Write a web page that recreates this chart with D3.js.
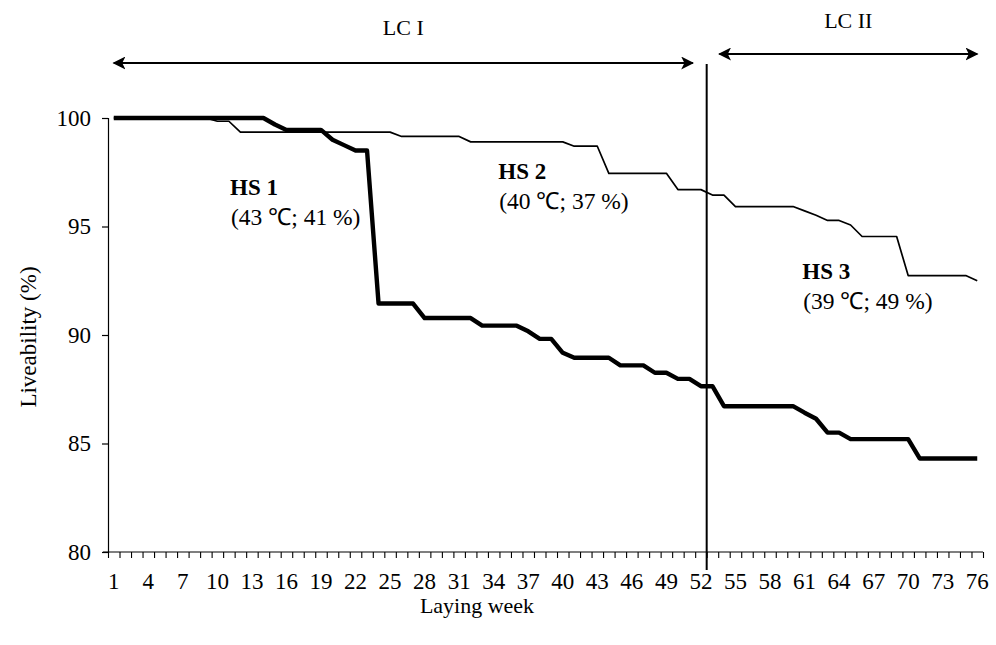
<!DOCTYPE html>
<html>
<head>
<meta charset="utf-8">
<script src="https://cdn.jsdelivr.net/npm/d3@7"></script>
<style>
  html, body { margin: 0; padding: 0; background: #fff; }
  svg text { font-family: "Liberation Serif", "Times New Roman", serif; fill: #000; }
</style>
</head>
<body>
<svg id="chart" width="996" height="645"></svg>
<script>
// ---- data ----
const weeks = d3.range(1, 77);
const controlLiveability = [
  100, 100, 100, 100, 100, 100, 100, 100, 100, 99.85,
  99.85, 99.35, 99.35, 99.35, 99.35, 99.35, 99.35, 99.35, 99.35, 99.35,
  99.35, 99.35, 99.35, 99.35, 99.35, 99.15, 99.15, 99.15, 99.15, 99.15,
  99.15, 98.9, 98.9, 98.9, 98.9, 98.9, 98.9, 98.9, 98.9, 98.9,
  98.7, 98.7, 98.7, 97.45, 97.45, 97.45, 97.45, 97.45, 97.45, 96.7,
  96.7, 96.7, 96.45, 96.45, 95.92, 95.92, 95.92, 95.92, 95.92, 95.92,
  95.72, 95.52, 95.28, 95.28, 95.07, 94.54, 94.54, 94.54, 94.54, 92.74,
  92.74, 92.74, 92.74, 92.74, 92.74, 92.5
];
const heatLiveability = [
  100, 100, 100, 100, 100, 100, 100, 100, 100, 100,
  100, 100, 100, 100, 99.7, 99.45, 99.45, 99.45, 99.45, 99.0,
  98.75, 98.5, 98.5, 91.45, 91.45, 91.45, 91.45, 90.78, 90.78, 90.78,
  90.78, 90.78, 90.43, 90.43, 90.43, 90.43, 90.17, 89.82, 89.82, 89.18,
  88.95, 88.95, 88.95, 88.95, 88.6, 88.6, 88.6, 88.26, 88.26, 87.98,
  87.98, 87.64, 87.64, 86.72, 86.72, 86.72, 86.72, 86.72, 86.72, 86.72,
  86.42, 86.14, 85.5, 85.5, 85.2, 85.2, 85.2, 85.2, 85.2, 85.2,
  84.31, 84.31, 84.31, 84.31, 84.31, 84.31
];
const yTicks = [80, 85, 90, 95, 100];
const xTickLabels = d3.range(1, 77, 3);
const annotations = [
  { title: "HS 1", sub: "(43 \u2103; 41 %)", week: 11.1, value: 96.45 },
  { title: "HS 2", sub: "(40 \u2103; 37 %)", week: 34.4, value: 97.2 },
  { title: "HS 3", sub: "(39 \u2103; 49 %)", week: 60.8, value: 92.56 }
];
const periods = [
  { label: "LC I", from: 1, to: 51.3 },
  { label: "LC II", from: 53.6, to: 76 }
];
const splitWeek = 52.5;

// ---- layout ----
const svg = d3.select("#chart");
const x = d3.scaleLinear().domain([0.5, 76.5]).range([108, 983]);
const y = d3.scaleLinear().domain([80, 100]).range([552, 118]);

// defs: arrowheads
const defs = svg.append("defs");
defs.append("marker")
  .attr("id", "arrow")
  .attr("viewBox", "0 0 10 10")
  .attr("refX", 9).attr("refY", 5)
  .attr("markerWidth", 13).attr("markerHeight", 13)
  .attr("markerUnits", "userSpaceOnUse")
  .attr("orient", "auto-start-reverse")
  .append("path")
  .attr("d", "M0,0 L10,5 L0,10 L2.5,5 Z")
  .attr("fill", "#000");

// y axis
const yAxis = d3.axisLeft(y).tickValues(yTicks).tickSize(6).tickPadding(11).tickFormat(d3.format("d"));
const gy = svg.append("g").attr("transform", `translate(${x(0.5)},0)`).call(yAxis);
gy.select(".domain").attr("stroke", "#000").attr("stroke-width", 1.2);
gy.selectAll(".tick line").attr("stroke", "#000").attr("stroke-width", 1.2);
gy.selectAll(".tick text").style("font-size", "23px");

// x axis: minor ticks at category boundaries
const xAxis = d3.axisBottom(x).tickValues(d3.range(0.5, 77, 1)).tickSize(6).tickFormat("");
const gx = svg.append("g").attr("transform", `translate(0,${y(80)})`).call(xAxis);
gx.select(".domain").attr("stroke", "#000").attr("stroke-width", 1.2).attr("d", `M${x(0.5) - 5},0H${x(76.5)}`);
gx.selectAll(".tick line").attr("stroke", "#000").attr("stroke-width", 1.1);

// x tick labels (week numbers)
svg.append("g").selectAll("text").data(xTickLabels).join("text")
  .attr("x", d => x(d)).attr("y", y(80) + 37)
  .attr("text-anchor", "middle")
  .style("font-size", "23px")
  .text(d => d);

// axis titles
svg.append("text").attr("x", 477).attr("y", 613).attr("text-anchor", "middle")
  .style("font-size", "22px").text("Laying week");
svg.append("text").attr("transform", "translate(36,337) rotate(-90)").attr("text-anchor", "middle")
  .style("font-size", "23px").text("Liveability (%)");

// lines
const line = d3.line().x((d, i) => x(weeks[i])).y(d => y(d));
svg.append("path").datum(controlLiveability).attr("d", line)
  .attr("fill", "none").attr("stroke", "#000").attr("stroke-width", 1.7).attr("stroke-linejoin", "round");
svg.append("path").datum(heatLiveability).attr("d", line)
  .attr("fill", "none").attr("stroke", "#000").attr("stroke-width", 4.4).attr("stroke-linejoin", "round");

// vertical separator
svg.append("line")
  .attr("x1", x(splitWeek)).attr("x2", x(splitWeek))
  .attr("y1", 64).attr("y2", y(80) + 18)
  .attr("stroke", "#000").attr("stroke-width", 2);

// period arrows + labels
const periodY = [63, 54];
const periodLabelY = [35, 28];
periods.forEach((p, i) => {
  svg.append("line")
    .attr("x1", x(p.from)).attr("x2", x(p.to))
    .attr("y1", periodY[i]).attr("y2", periodY[i])
    .attr("stroke", "#000").attr("stroke-width", 2.2)
    .attr("marker-start", "url(#arrow)")
    .attr("marker-end", "url(#arrow)");
  svg.append("text")
    .attr("x", (x(p.from) + x(p.to)) / 2).attr("y", periodLabelY[i])
    .attr("text-anchor", "middle").style("font-size", "22px").text(p.label);
});

// annotations
annotations.forEach(a => {
  const g = svg.append("g").attr("transform", `translate(${x(a.week)},${y(a.value)})`);
  g.append("text").attr("x", 0).attr("y", 0)
    .style("font-size", "23px").style("font-weight", "bold").text(a.title);
  g.append("text").attr("x", 1).attr("y", 30)
    .style("font-size", "23.5px").text(a.sub);
});
</script>
</body>
</html>
